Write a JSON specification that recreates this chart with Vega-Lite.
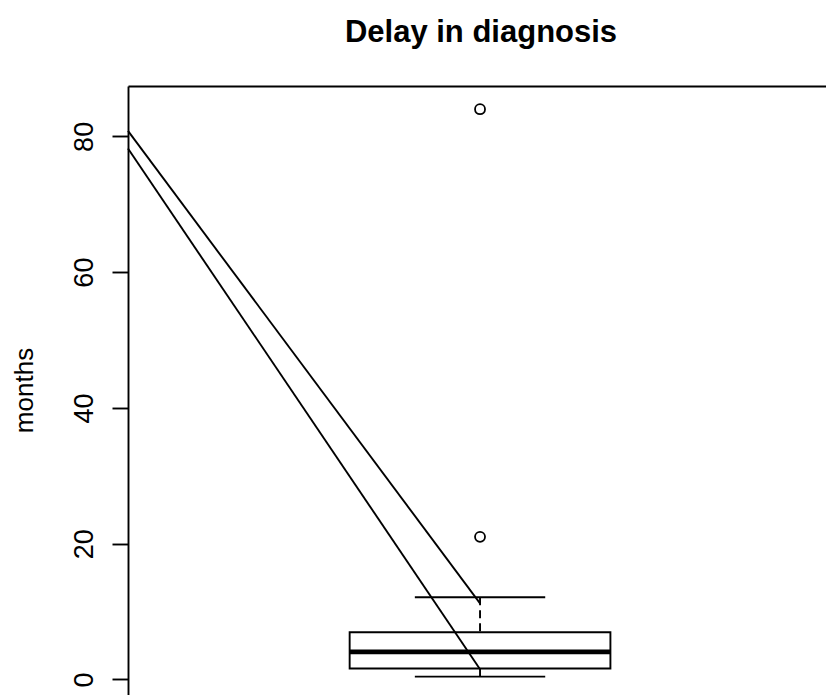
{
  "$schema": "https://vega.github.io/schema/vega-lite/v6.json",
  "autosize": {"type": "none"},
  "padding": {"left": 128, "top": 86, "right": 0, "bottom": 0},
  "width": 698,
  "height": 609,
  "background": "white",
  "view": {"stroke": null},
  "title": {
    "text": "Delay in diagnosis",
    "font": "Liberation Sans",
    "fontSize": 31,
    "fontWeight": "bold",
    "color": "black",
    "anchor": "middle",
    "frame": "group",
    "baseline": "alphabetic",
    "offset": 13,
    "dx": 4
  },
  "datasets": {
    "stats": [{"group": "Delay in diagnosis", "lower": 0.4, "q1": 1.6, "median": 4.05, "q3": 6.95, "upper": 12.1}],
    "outliers": [{"months": 21}, {"months": 84}],
    "lines": [
      {"line": "a", "x": 0.46, "y": 80.8},
      {"line": "a", "x": 1, "y": 11.2},
      {"line": "b", "x": 0.46, "y": 78.2},
      {"line": "b", "x": 1, "y": 1.5}
    ]
  },
  "resolve": {"scale": {"x": "shared", "y": "shared"}},
  "encoding": {
    "y": {
      "type": "quantitative",
      "scale": {"domain": [-2.3, 87.42], "nice": false, "zero": false},
      "axis": {
        "values": [0, 20, 40, 60, 80],
        "grid": false,
        "domainColor": "black",
        "domainWidth": 1.9,
        "tickColor": "black",
        "tickWidth": 1.9,
        "tickSize": 16,
        "labelAngle": 270,
        "labelAlign": "center",
        "labelBaseline": "alphabetic",
        "labelPadding": 20,
        "labelFont": "Liberation Sans",
        "labelFontSize": 27,
        "labelColor": "black",
        "title": "months",
        "titleFont": "Liberation Sans",
        "titleFontSize": 26,
        "titleFontWeight": "normal",
        "titleColor": "black",
        "titleAngle": 270,
        "titleAlign": "center",
        "titleBaseline": "alphabetic",
        "titleX": -96,
        "titleY": 304
      }
    }
  },
  "layer": [
    {
      "data": {"name": "lines"},
      "mark": {"type": "line", "color": "black", "strokeWidth": 1.9},
      "encoding": {
        "x": {
          "field": "x",
          "type": "quantitative",
          "scale": {"domain": [0.46, 1.5307], "nice": false, "zero": false},
          "axis": {"orient": "top", "labels": false, "ticks": false, "grid": false, "title": null, "domainColor": "black", "domainWidth": 1.9}
        },
        "y": {"field": "y", "type": "quantitative"},
        "detail": {"field": "line"}
      }
    },
    {
      "data": {"name": "stats"},
      "mark": {"type": "rule", "color": "black", "strokeWidth": 1.9, "strokeDash": [8, 5]},
      "encoding": {
        "x": {"datum": 1, "type": "quantitative"},
        "y": {"field": "upper", "type": "quantitative"},
        "y2": {"field": "q3"}
      }
    },
    {
      "data": {"name": "stats"},
      "mark": {"type": "rule", "color": "black", "strokeWidth": 1.9, "strokeDash": [8, 5]},
      "encoding": {
        "x": {"datum": 1, "type": "quantitative"},
        "y": {"field": "lower", "type": "quantitative"},
        "y2": {"field": "q1"}
      }
    },
    {
      "data": {"name": "stats"},
      "mark": {"type": "rect", "fill": "white", "fillOpacity": 0, "stroke": "black", "strokeWidth": 1.9},
      "encoding": {
        "x": {"datum": 0.8, "type": "quantitative"},
        "x2": {"datum": 1.2},
        "y": {"field": "q1", "type": "quantitative"},
        "y2": {"field": "q3"}
      }
    },
    {
      "data": {"name": "stats"},
      "mark": {"type": "rule", "color": "black", "strokeWidth": 4.8},
      "encoding": {
        "x": {"datum": 0.8, "type": "quantitative"},
        "x2": {"datum": 1.2},
        "y": {"field": "median", "type": "quantitative"}
      }
    },
    {
      "data": {"name": "stats"},
      "mark": {"type": "rule", "color": "black", "strokeWidth": 1.9},
      "encoding": {
        "x": {"datum": 0.9, "type": "quantitative"},
        "x2": {"datum": 1.1},
        "y": {"field": "upper", "type": "quantitative"}
      }
    },
    {
      "data": {"name": "stats"},
      "mark": {"type": "rule", "color": "black", "strokeWidth": 1.9},
      "encoding": {
        "x": {"datum": 0.9, "type": "quantitative"},
        "x2": {"datum": 1.1},
        "y": {"field": "lower", "type": "quantitative"}
      }
    },
    {
      "data": {"name": "outliers"},
      "mark": {"type": "point", "shape": "circle", "filled": false, "stroke": "black", "strokeWidth": 1.8, "size": 100, "opacity": 1},
      "encoding": {
        "x": {"datum": 1, "type": "quantitative"},
        "y": {"field": "months", "type": "quantitative"}
      }
    }
  ]
}
